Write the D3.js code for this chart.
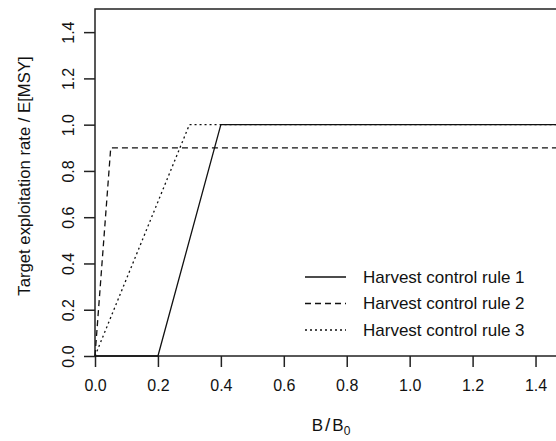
<!DOCTYPE html>
<html>
<head>
<meta charset="utf-8">
<script src="https://cdn.jsdelivr.net/npm/d3@7"></script>
<style>
  body { margin: 0; background: #fff; }
  text { font-family: "Liberation Sans", Arial, sans-serif; fill: #111; }
</style>
</head>
<body>
<script>
// harvest control rules: B/B0 vs target exploitation rate
var xTicks = [0, 0.2, 0.4, 0.6, 0.8, 1.0, 1.2, 1.4];
var yTicks = [0, 0.2, 0.4, 0.6, 0.8, 1.0, 1.2, 1.4];

var rule1 = [[0, 0], [0.2, 0], [0.4, 1.0], [1.5, 1.0]];
var rule2 = [[0, 0], [0.05, 0.9], [1.5, 0.9]];
var rule3 = [[0, 0], [0.3, 1.0], [1.5, 1.0]];

var ruleNames = ["Harvest control rule 1", "Harvest control rule 2", "Harvest control rule 3"];
var dashes = [null, "6,4", "2,3"];

window.onload = function() {
  var width = 556, height = 441;
  var margin = {top: 9, right: -11, bottom: 85, left: 95};
  var w = width - margin.left - margin.right;
  var h = height - margin.top - margin.bottom;

  var svg = d3.select("body").append("svg")
    .attr("width", width)
    .attr("height", height);

  var xScale = d3.scaleLinear().domain([0, 1.5]).range([0, w]);
  var yScale = d3.scaleLinear().domain([0, 1.5]).range([h, 0]);

  var g = svg.append("g")
    .attr("transform", "translate(" + margin.left + "," + margin.top + ")");

  // box
  g.append("rect")
    .attr("x", 0).attr("y", 0)
    .attr("width", w).attr("height", h)
    .attr("fill", "none")
    .attr("stroke", "#222")
    .attr("stroke-width", 1.5);

  var xAxis = d3.axisBottom(xScale).tickValues(xTicks)
    .tickFormat(d3.format(".1f")).tickSize(11).tickPadding(13);
  var yAxis = d3.axisLeft(yScale).tickValues(yTicks)
    .tickFormat(d3.format(".1f")).tickSize(11).tickPadding(10);

  var gx = g.append("g").attr("transform", "translate(0," + h + ")").call(xAxis);
  var gy = g.append("g").call(yAxis);

  [gx, gy].forEach(function(a) {
    a.select(".domain").remove();
    a.selectAll("line").attr("stroke", "#222").attr("stroke-width", 1.5);
    a.selectAll("text").attr("font-size", "16px").attr("fill", "#111")
      .attr("font-family", "Liberation Sans, Arial, sans-serif");
  });

  // rotate y tick labels like R (las=0)
  gy.selectAll(".tick text")
    .attr("text-anchor", "middle")
    .attr("x", null)
    .attr("transform", "translate(-27,0) rotate(-90)")
    .attr("dy", "0.35em");

  // axis titles
  svg.append("text")
    .attr("transform", "translate(24,176) rotate(-90)")
    .attr("text-anchor", "middle")
    .attr("dy", "0.35em")
    .attr("font-size", "16.7px")
    .text("Target exploitation rate / E[MSY]");

  var xt = svg.append("text")
    .attr("x", margin.left + w / 2)
    .attr("y", 431)
    .attr("text-anchor", "middle")
    .attr("font-size", "17px");
  xt.append("tspan").text("B");
  xt.append("tspan").attr("dx", 2).attr("font-size", "19px").text("/");
  xt.append("tspan").attr("dx", 2).text("B");
  xt.append("tspan").attr("font-size", "12px").attr("dy", 4).text("0");

  // lines
  var line = d3.line()
    .x(function(d) { return xScale(d[0]); })
    .y(function(d) { return yScale(d[1]); });

  var plot = g.append("g");
  [rule1, rule2, rule3].forEach(function(r, i) {
    plot.append("path")
      .attr("d", line(r))
      .attr("fill", "none")
      .attr("stroke", "#111")
      .attr("stroke-width", 1.3)
      .attr("stroke-dasharray", dashes[i]);
  });

  // legend
  var leg = svg.append("g");
  ruleNames.forEach(function(name, i) {
    var y = 277 + i * 26.5;
    leg.append("line")
      .attr("x1", 305).attr("x2", 346)
      .attr("y1", y).attr("y2", y)
      .attr("stroke", "#111")
      .attr("stroke-width", 1.3)
      .attr("stroke-dasharray", dashes[i]);
    leg.append("text")
      .attr("x", 363).attr("y", y)
      .attr("dy", "0.35em")
      .attr("font-size", "17px")
      .text(name);
  });
};
</script>
</body>
</html>
